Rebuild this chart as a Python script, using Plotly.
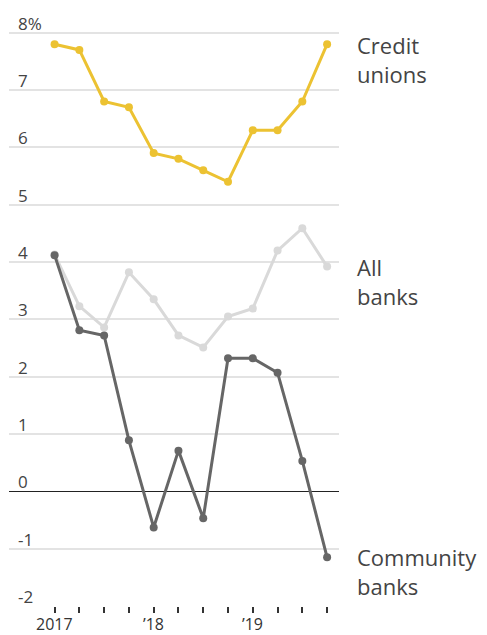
import plotly.graph_objects as go

quarters = list(range(12))
x_ticktext = ["2017", "", "", "", "\u201918", "", "", "", "\u201919", "", "", ""]

credit_unions = [7.8, 7.7, 6.8, 6.7, 5.9, 5.8, 5.6, 5.4, 6.3, 6.3, 6.8, 7.8]
all_banks = [4.13, 3.23, 2.86, 3.82, 3.35, 2.72, 2.51, 3.05, 3.19, 4.20, 4.59, 3.92]
community_banks = [4.12, 2.81, 2.72, 0.89, -0.63, 0.71, -0.47, 2.32, 2.32, 2.07, 0.53, -1.15]

y_tickvals = [-2, -1, 0, 1, 2, 3, 4, 5, 6, 7, 8]
y_ticktext = ["-2", "-1", "0", "1", "2", "3", "4", "5", "6", "7", "8%"]

series = [
    ("All<br>banks", all_banks, "#d9d9d9", 3.66),
    ("Community<br>banks", community_banks, "#666666", -1.39),
    ("Credit<br>unions", credit_unions, "#ecc232", 7.53),
]

FONT = "Open Sans"
fig = go.Figure()
for name, vals, color, ly in series:
    fig.add_trace(go.Scatter(
        x=quarters, y=vals, mode="lines+markers",
        line=dict(color=color, width=3),
        marker=dict(color=color, size=8),
        hoverinfo="skip", showlegend=False,
    ))
    fig.add_annotation(
        x=1, xref="paper", xshift=16, y=ly, yref="y",
        text=name, showarrow=False, xanchor="left", yanchor="middle",
        align="left", font=dict(family=FONT, size=22, color="#444444"),
    )

for v, t in zip(y_tickvals, y_ticktext):
    fig.add_annotation(
        x=0, xref="paper", xshift=7, y=v, yref="y", yshift=-4,
        text=t, showarrow=False, xanchor="left", yanchor="bottom",
        font=dict(family=FONT, size=17, color="#444444"),
    )

for q, t in zip(quarters, x_ticktext):
    if t:
        fig.add_annotation(
            x=q, xref="x", y=0, yref="paper", yshift=-6,
            text=t, showarrow=False, xanchor="center", yanchor="top",
            borderpad=0,
            font=dict(family=FONT, size=16, color="#333333"),
        )

fig.update_layout(
    width=487, height=635,
    margin=dict(l=1, r=156, t=23, b=37),
    paper_bgcolor="white", plot_bgcolor="white",
    font=dict(family=FONT, color="#333333"),
    xaxis=dict(
        range=[-1.84, 11.48], tickvals=quarters, showticklabels=False,
        showgrid=False, zeroline=False, showline=False,
        ticks="outside", ticklen=6, tickwidth=1.5, tickcolor="#333333",
        fixedrange=True,
    ),
    yaxis=dict(
        range=[-2, 8.03], tickvals=y_tickvals,
        showgrid=True, gridcolor="#e3e3e3", gridwidth=1.5,
        zeroline=True, zerolinecolor="#222222", zerolinewidth=1.3,
        showline=False, ticks="", showticklabels=False,
        fixedrange=True,
    ),
)

fig.write_html("out.html")
